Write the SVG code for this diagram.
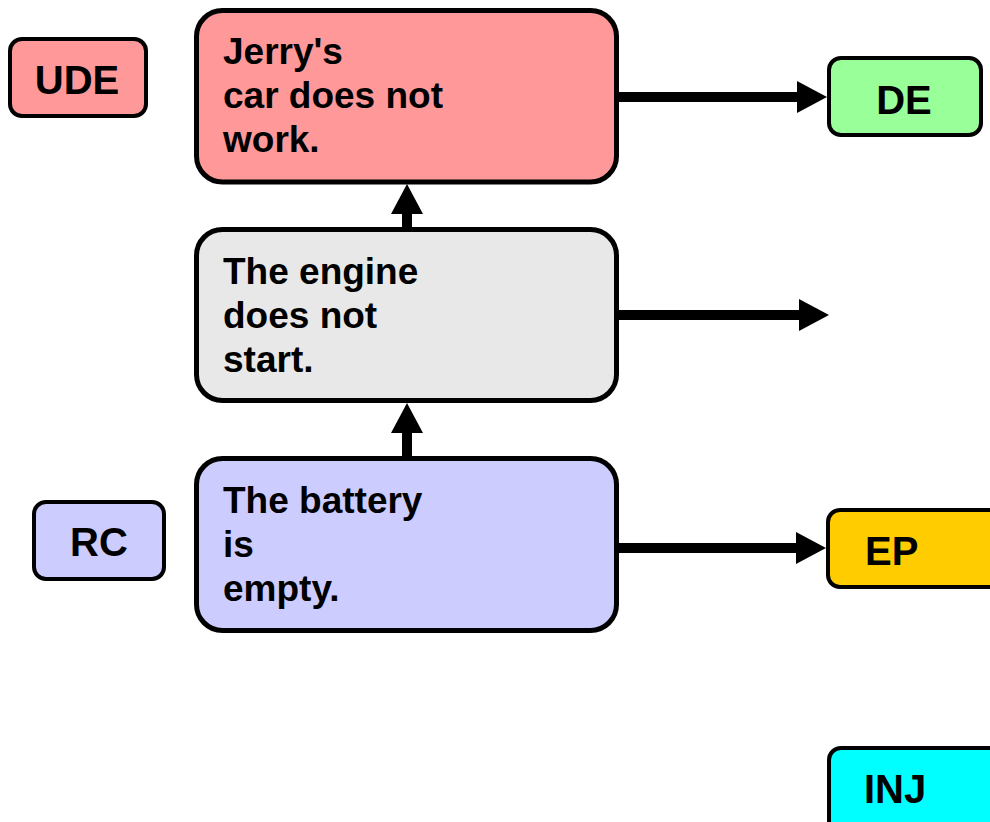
<svg xmlns="http://www.w3.org/2000/svg" width="990" height="822" viewBox="0 0 990 822">
<style>
.box{stroke:#000;stroke-width:5}
.tag{stroke:#000;stroke-width:4}
.txt{font-family:"Liberation Sans",Arial,sans-serif;font-weight:bold;font-size:37px;fill:#000}
.lbl{font-family:"Liberation Sans",Arial,sans-serif;font-weight:bold;font-size:40px;fill:#000}
.conn{stroke:#000;stroke-width:10;fill:none}
</style>
<defs>
<marker id="ah" markerUnits="userSpaceOnUse" markerWidth="30" markerHeight="32" refX="0" refY="16" orient="auto">
<path d="M0,0 L30,16 L0,32 z" fill="#000"/>
</marker>
</defs>
<rect width="990" height="822" fill="#fff"/>
<g id="connectors">
<path class="conn" d="M619,97 H797" marker-end="url(#ah)"/>
<path class="conn" d="M619,315 H799" marker-end="url(#ah)"/>
<path class="conn" d="M619,548 H796" marker-end="url(#ah)"/>
<path class="conn" d="M407,229 V214" marker-end="url(#ah)"/>
<path class="conn" d="M407,458 V433" marker-end="url(#ah)"/>
</g>
<g id="ude">
<rect class="tag" x="10" y="39" width="136" height="77" rx="12" fill="#FF9999"/>
<text class="lbl" x="77" y="94" text-anchor="middle">UDE</text>
</g>
<g id="de">
<rect class="tag" x="829" y="58" width="152" height="77" rx="12" fill="#99FF99"/>
<text class="lbl" x="904" y="114" text-anchor="middle">DE</text>
</g>
<g id="rc">
<rect class="tag" x="34" y="502" width="130" height="77" rx="12" fill="#CCCCFF"/>
<text class="lbl" x="99" y="556" text-anchor="middle">RC</text>
</g>
<g id="ep">
<rect class="tag" x="828" y="510" width="200" height="77" rx="12" fill="#FFCC00"/>
<text class="lbl" x="865" y="565">EP</text>
</g>
<g id="inj">
<rect class="tag" x="829" y="748" width="200" height="100" rx="12" fill="#00FFFF"/>
<text class="lbl" x="864" y="803">INJ</text>
</g>
<g id="car">
<rect class="box" x="196.5" y="10.5" width="420" height="171.5" rx="26" fill="#FF9999"/>
<text class="txt" x="223"><tspan x="223" y="64">Jerry's</tspan><tspan x="223" y="108">car does not</tspan><tspan x="223" y="152">work.</tspan></text>
</g>
<g id="engine">
<rect class="box" x="196.5" y="229.5" width="420" height="171" rx="26" fill="#E8E8E8"/>
<text class="txt" x="223"><tspan x="223" y="284">The engine</tspan><tspan x="223" y="328">does not</tspan><tspan x="223" y="372">start.</tspan></text>
</g>
<g id="battery">
<rect class="box" x="196.5" y="458.5" width="420" height="172" rx="26" fill="#CCCCFF"/>
<text class="txt" x="223"><tspan x="223" y="513">The battery</tspan><tspan x="223" y="557">is</tspan><tspan x="223" y="601">empty.</tspan></text>
</g>
</svg>
